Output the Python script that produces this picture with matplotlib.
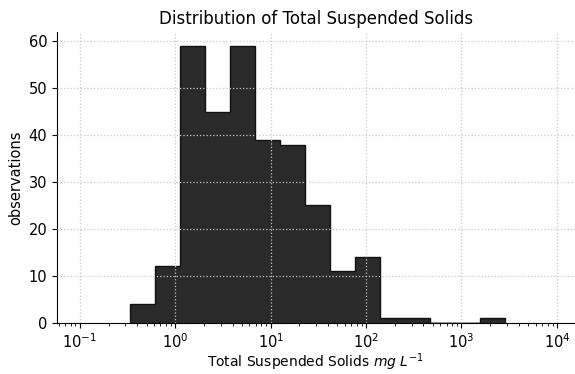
import numpy as np
import matplotlib.pyplot as plt

# histogram: log10 of bin edges and counts per bin
log_edges = [-0.476, -0.214, 0.048, 0.310, 0.572, 0.834, 1.096, 1.358, 1.620,
             1.882, 2.144, 2.406, 2.668, 2.930, 3.192, 3.454]
counts = [4, 12, 59, 45, 59, 39, 38, 25, 11, 14, 1, 1, 0, 0, 1]

edges = 10 ** np.array(log_edges)
mids = np.sqrt(edges[:-1] * edges[1:])

fig = plt.figure(figsize=(5.75, 3.74), dpi=100)
ax = fig.add_axes([0.099, 0.137, 0.901, 0.777])

ax.hist(mids, bins=edges, weights=counts, histtype='stepfilled',
        facecolor='#2a2a2a', edgecolor='#111111', linewidth=1.0)

ax.set_xscale('log')
ax.set_xlim(10 ** -1.24, 10 ** 4.19)
ax.set_ylim(0, 61.95)
ax.set_yticks([0, 10, 20, 30, 40, 50, 60])

ax.set_axisbelow(False)
ax.grid(True, which='major', linestyle=':', color='#c8c8c8', linewidth=0.9)

ax.spines['top'].set_visible(False)
ax.spines['right'].set_visible(False)
ax.tick_params(labelsize=10.5)

ax.set_title('Distribution of Total Suspended Solids', fontsize=12)
ax.set_xlabel(r'Total Suspended Solids $mg\ L^{-1}$', fontsize=10, labelpad=0)
ax.set_ylabel('observations', fontsize=10.5)

fig.savefig('out.png', dpi=100)
